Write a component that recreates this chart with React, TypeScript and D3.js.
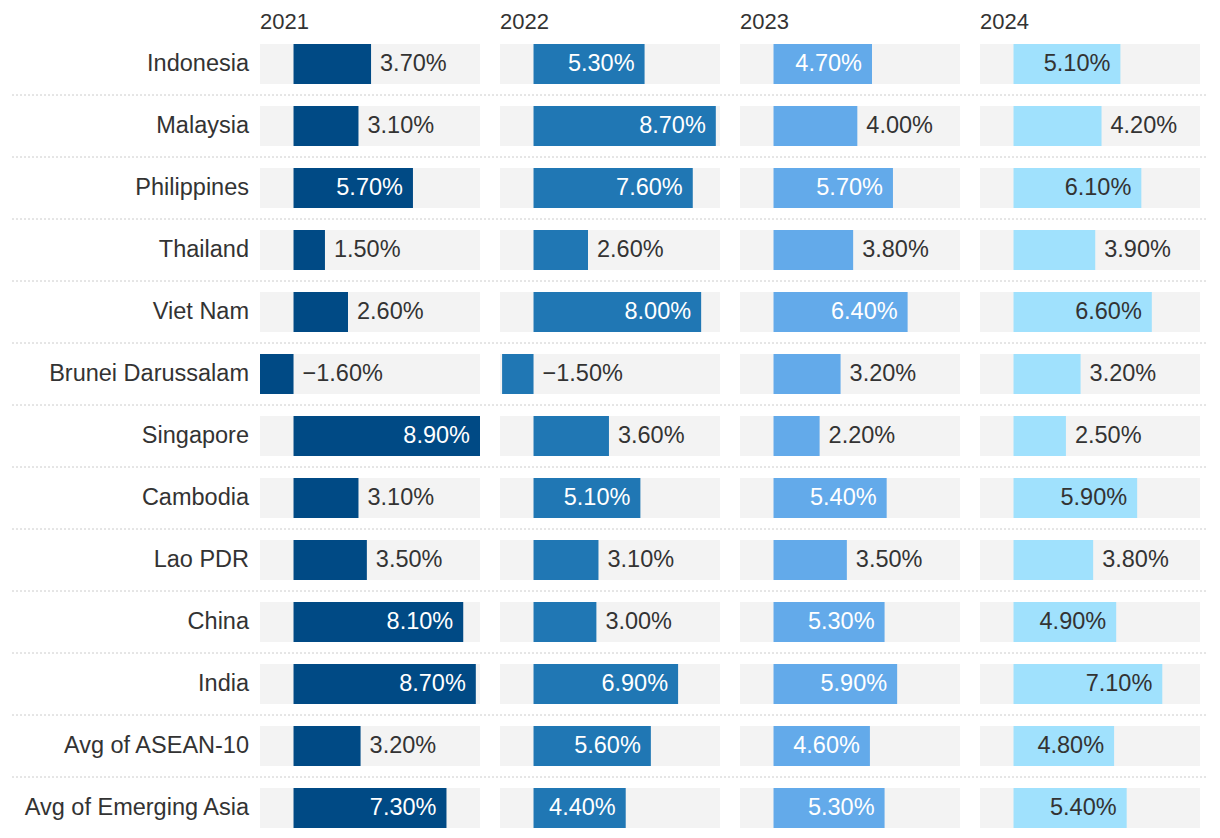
import { useMemo } from "react";
import * as d3 from "d3";

const WIDTH = 1220;
const HEIGHT = 838;

const countries = [
  "Indonesia",
  "Malaysia",
  "Philippines",
  "Thailand",
  "Viet Nam",
  "Brunei Darussalam",
  "Singapore",
  "Cambodia",
  "Lao PDR",
  "China",
  "India",
  "Avg of ASEAN-10",
  "Avg of Emerging Asia",
];

const years = ["2021", "2022", "2023", "2024"];

const growth2021 = [3.7, 3.1, 5.7, 1.5, 2.6, -1.6, 8.9, 3.1, 3.5, 8.1, 8.7, 3.2, 7.3];
const growth2022 = [5.3, 8.7, 7.6, 2.6, 8.0, -1.5, 3.6, 5.1, 3.1, 3.0, 6.9, 5.6, 4.4];
const growth2023 = [4.7, 4.0, 5.7, 3.8, 6.4, 3.2, 2.2, 5.4, 3.5, 5.3, 5.9, 4.6, 5.3];
const growth2024 = [5.1, 4.2, 6.1, 3.9, 6.6, 3.2, 2.5, 5.9, 3.8, 4.9, 7.1, 4.8, 5.4];

const series = [growth2021, growth2022, growth2023, growth2024];
const colors = ["#004a85", "#2077b4", "#63aaea", "#a0e1fd"];
const insideText = ["#ffffff", "#ffffff", "#ffffff", "#333333"];

const FONT = "'Liberation Sans', Arial, Helvetica, sans-serif";
const LABEL_SIZE = 23.5;

const App = () => {
  const panelScale = useMemo(
    () => d3.scaleBand().domain(years).range([260, 1200]).paddingInner(1 / 12),
    []
  );
  const yScale = useMemo(
    () => d3.scaleBand().domain(countries).range([44, 828]).paddingInner(22 / 62),
    []
  );
  const allValues = series.flat();
  const [minV, maxV] = d3.extent(allValues) as [number, number];
  const fmt = (v: number) => d3.format(".2f")(v) + "%";

  const bw = panelScale.bandwidth();
  const bh = yScale.bandwidth();

  return (
    <svg
      width={WIDTH}
      height={HEIGHT}
      style={{ position: "absolute", left: 0, top: 0, background: "white" }}
      fontFamily={FONT}
    >
      {/* row separators */}
      {countries.slice(1).map((c) => {
        const y = (yScale(c) as number) - (yScale.step() - bh) / 2;
        return (
          <line
            key={"sep" + c}
            x1={12}
            x2={1208}
            y1={y}
            y2={y}
            stroke="#cccccc"
            strokeWidth={1}
            strokeDasharray="2,2"
          />
        );
      })}

      {/* country labels */}
      {countries.map((c) => (
        <text
          key={"lbl" + c}
          x={249}
          y={(yScale(c) as number) + bh / 2}
          dy="0.3em"
          textAnchor="end"
          fontSize={LABEL_SIZE}
          fill="#333333"
        >
          {c}
        </text>
      ))}

      {years.map((yr, i) => {
        const x0 = panelScale(yr) as number;
        const xScale = d3.scaleLinear().domain([minV, maxV]).range([x0, x0 + bw]);
        return (
          <g key={yr}>
            <text x={x0} y={28.5} fontSize={22} fill="#333333">
              {yr}
            </text>
            {countries.map((c, j) => {
              const v = series[i][j];
              const y = yScale(c) as number;
              const x1 = xScale(Math.min(0, v));
              const x2 = xScale(Math.max(0, v));
              const inside = v >= 4.3;
              return (
                <g key={c}>
                  <rect x={x0} y={y} width={bw} height={bh} fill="#f3f3f3" />
                  <rect x={x1} y={y} width={x2 - x1} height={bh} fill={colors[i]} />
                  <text
                    x={inside ? x2 - 10 : x2 + 9}
                    y={y + bh / 2}
                    dy="0.3em"
                    textAnchor={inside ? "end" : "start"}
                    fontSize={LABEL_SIZE}
                    fill={inside ? insideText[i] : "#333333"}
                  >
                    {fmt(v)}
                  </text>
                </g>
              );
            })}
          </g>
        );
      })}
    </svg>
  );
};

export default App;
